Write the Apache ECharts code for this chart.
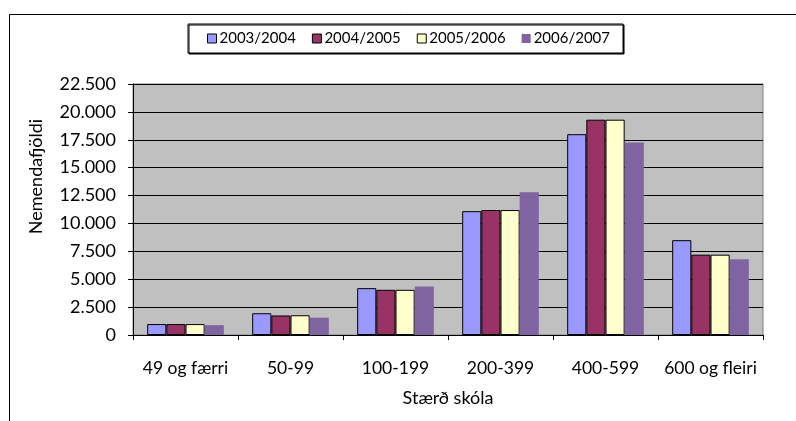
<!DOCTYPE html>
<html>
<head>
<meta charset="utf-8">
<script src="https://cdn.jsdelivr.net/npm/echarts@6/dist/echarts.min.js"></script>
<style>
html,body{margin:0;padding:0;background:#fff;}
#c{width:796px;height:421px;}
</style>
</head>
<body>
<div id="c"></div>
<script>
const categories = ['49 og færri', '50-99', '100-199', '200-399', '400-599', '600 og fleiri'];
const seriesNames = ['2003/2004', '2004/2005', '2005/2006', '2006/2007'];
const s2003 = [980, 1950, 4200, 11100, 18000, 8500];
const s2004 = [980, 1750, 4050, 11200, 19300, 7200];
const s2005 = [980, 1770, 4050, 11200, 19300, 7200];
const s2006 = [880, 1550, 4350, 12800, 17250, 6800];
const yTicks = {min: 0, max: 22500, interval: 2500};
const colors = ['#9999FF', '#993366', '#FFFFCC', '#8064A2'];

const font = 'Lato, "Open Sans", sans-serif';
const chart = echarts.init(document.getElementById('c'), null, {renderer: 'canvas'});
const data = [s2003, s2004, s2005, s2006];
function fmt(v){ return String(v).replace(/\B(?=(\d{3})+(?!\d))/g, '.'); }

chart.setOption({
  animation: false,
  backgroundColor: '#fff',
  textStyle: {fontFamily: font},
  graphic: [{
    type: 'rect', left: 7, top: 12, shape: {width: 800, height: 420},
    style: {fill: 'none', stroke: '#000', lineWidth: 1}, z: -1
  }],
  legend: {
    data: seriesNames.map((n, i) => ({name: n, icon: 'rect', itemStyle: {borderColor: '#000', borderWidth: i === 3 ? 0 : 1}})),
    left: 188, top: 24,
    itemWidth: 9, itemHeight: 9, itemGap: 16,
    padding: [7, 13, 7, 19],
    borderColor: '#000', borderWidth: 1,
    backgroundColor: '#fff',
    shadowColor: '#000', shadowOffsetX: 1, shadowOffsetY: 1, shadowBlur: 0,
    textStyle: {fontFamily: font, fontSize: 15, color: '#000', padding: [0, 0, 0, -2]}
  },
  grid: {
    left: 133, right: 33, top: 84, bottom: 86,
    show: true, backgroundColor: '#C0C0C0', borderColor: '#808080', borderWidth: 1
  },
  xAxis: {
    type: 'category', data: categories,
    name: 'Stærð skóla', nameLocation: 'middle', nameGap: 54,
    nameTextStyle: {fontFamily: font, fontSize: 18, color: '#000'},
    axisLine: {show: true, lineStyle: {color: '#000', width: 1}},
    axisTick: {show: true, length: 5, lineStyle: {color: '#000'}},
    axisLabel: {fontFamily: font, fontSize: 17.5, color: '#000', margin: 24, interval: 0, hideOverlap: false}
  },
  yAxis: {
    type: 'value', min: yTicks.min, max: yTicks.max, interval: yTicks.interval,
    name: 'Nemendafjöldi', nameLocation: 'middle', nameGap: 88,
    nameTextStyle: {fontFamily: font, fontSize: 18, color: '#000', padding: [0, 0, 0, 66]},
    axisLine: {show: true, lineStyle: {color: '#000', width: 1}},
    axisTick: {show: true, length: 5, lineStyle: {color: '#000'}},
    axisLabel: {fontFamily: font, fontSize: 18, color: '#000', margin: 17, formatter: fmt},
    splitLine: {show: true, lineStyle: {color: '#000', width: 1}}
  },
  series: seriesNames.map((n, i) => ({
    name: n, type: 'bar', data: data[i],
    barGap: '0%', barCategoryGap: '27%',
    itemStyle: {color: colors[i], borderColor: i === 3 ? colors[i] : '#000', borderWidth: i === 3 ? 0 : 1}
  }))
});
</script>
</body>
</html>
